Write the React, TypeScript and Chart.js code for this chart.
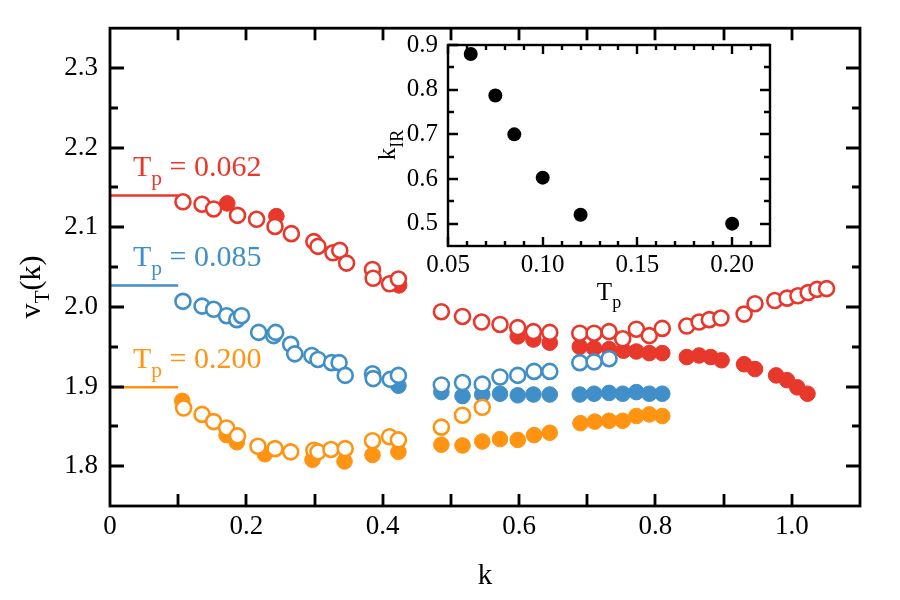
import React, { useEffect, useRef } from "react";
import { Chart, registerables } from "chart.js";
Chart.register(...registerables);

const FONT = '"Liberation Serif", "Times New Roman", "DejaVu Serif", serif';
const RED = "#e8382c";
const BLUE = "#418fc8";
const ORANGE = "#ff9412";

// ---------- main panel data ----------
const tpLabels = ["0.062", "0.085", "0.200"];
const plateauK = [0, 0.1];
const plateauV = [2.14, 2.027, 1.899];

const red062Open: number[][] = [
  [0.107, 2.132], [0.135, 2.129], [0.152, 2.123], [0.187, 2.115], [0.215, 2.11], [0.242, 2.101],
  [0.266, 2.092], [0.299, 2.082], [0.305, 2.076], [0.327, 2.068], [0.337, 2.071], [0.347, 2.055],
  [0.385, 2.047], [0.386, 2.036], [0.41, 2.029], [0.423, 2.035],
  [0.486, 1.994], [0.517, 1.988], [0.545, 1.981], [0.572, 1.978], [0.598, 1.974], [0.621, 1.969], [0.645, 1.968],
  [0.689, 1.967], [0.71, 1.967], [0.732, 1.969], [0.752, 1.96], [0.772, 1.972], [0.791, 1.964], [0.81, 1.973],
  [0.846, 1.976], [0.864, 1.981], [0.879, 1.984], [0.896, 1.986], [0.93, 1.991], [0.946, 2.004],
  [0.975, 2.008], [0.993, 2.011], [1.009, 2.014], [1.024, 2.018], [1.037, 2.022], [1.051, 2.023],
];
const red062Filled: number[][] = [
  [0.172, 2.13], [0.244, 2.114], [0.424, 2.027],
  [0.598, 1.963], [0.621, 1.959], [0.645, 1.955],
  [0.689, 1.95], [0.71, 1.948], [0.732, 1.947], [0.753, 1.945], [0.772, 1.944], [0.791, 1.942], [0.81, 1.942],
  [0.846, 1.937], [0.864, 1.939], [0.881, 1.937], [0.897, 1.933], [0.93, 1.928], [0.946, 1.922],
  [0.977, 1.914], [0.993, 1.908], [1.008, 1.899], [1.023, 1.891],
];
const blue085Open: number[][] = [
  [0.107, 2.007], [0.135, 2.001], [0.152, 1.997], [0.171, 1.989], [0.186, 1.984], [0.193, 1.989],
  [0.218, 1.968], [0.24, 1.964], [0.243, 1.968], [0.265, 1.953], [0.271, 1.941], [0.296, 1.939],
  [0.305, 1.934], [0.325, 1.93], [0.336, 1.93], [0.345, 1.914],
  [0.385, 1.916], [0.386, 1.91], [0.411, 1.909], [0.423, 1.914],
  [0.486, 1.902], [0.517, 1.905], [0.546, 1.903], [0.572, 1.912], [0.598, 1.914], [0.622, 1.919], [0.645, 1.919],
  [0.689, 1.93], [0.71, 1.931], [0.732, 1.935],
];
const blue085Filled: number[][] = [
  [0.423, 1.901],
  [0.486, 1.893], [0.517, 1.888], [0.546, 1.89], [0.572, 1.891], [0.598, 1.889], [0.621, 1.89], [0.645, 1.89],
  [0.689, 1.89], [0.71, 1.891], [0.732, 1.892], [0.752, 1.891], [0.772, 1.893], [0.791, 1.891], [0.81, 1.891],
];
const orange200Open: number[][] = [
  [0.108, 1.873], [0.135, 1.865], [0.152, 1.856], [0.171, 1.848], [0.187, 1.838], [0.217, 1.825],
  [0.242, 1.822], [0.265, 1.818], [0.299, 1.82], [0.305, 1.818], [0.324, 1.821], [0.345, 1.822],
  [0.385, 1.832], [0.41, 1.837], [0.423, 1.833],
  [0.486, 1.849], [0.517, 1.864], [0.546, 1.874],
];
const orange200Filled: number[][] = [
  [0.106, 1.882], [0.171, 1.839], [0.186, 1.83], [0.227, 1.815], [0.297, 1.808], [0.344, 1.806],
  [0.385, 1.814], [0.423, 1.818],
  [0.486, 1.827], [0.517, 1.826], [0.546, 1.831], [0.572, 1.834], [0.598, 1.833], [0.622, 1.839], [0.645, 1.842],
  [0.69, 1.854], [0.711, 1.856], [0.732, 1.857], [0.752, 1.857], [0.772, 1.863], [0.791, 1.865], [0.81, 1.863],
];

const xTickValues = [0, 0.2, 0.4, 0.6, 0.8, 1.0];
const xTickLabels = ["0", "0.2", "0.4", "0.6", "0.8", "1.0"];
const xFrameTicks = [0.1, 0.2, 0.3, 0.4, 0.5, 0.6, 0.7, 0.8, 0.9, 1.0];
const yTickValues = [1.8, 1.9, 2.0, 2.1, 2.2, 2.3];
const yTickLabels = ["1.8", "1.9", "2.0", "2.1", "2.2", "2.3"];
const yMinorTicks = [1.85, 1.95, 2.05, 2.15, 2.25];

// ---------- inset data ----------
const insetTp = [0.062, 0.075, 0.085, 0.1, 0.12, 0.2];
const insetKIR = [0.88, 0.787, 0.7, 0.603, 0.52, 0.5];
const insetXTicks = [0.05, 0.1, 0.15, 0.2];
const insetXLabels = ["0.05", "0.10", "0.15", "0.20"];
const insetXMinor = [0.06, 0.07, 0.08, 0.09, 0.11, 0.12, 0.13, 0.14, 0.16, 0.17, 0.18, 0.19, 0.21];
const insetYTicks = [0.5, 0.6, 0.7, 0.8, 0.9];
const insetYLabels = ["0.5", "0.6", "0.7", "0.8", "0.9"];
const insetYMinor = [0.55, 0.65, 0.75, 0.85];

type Part = { t: string; sub?: boolean };

function partsWidth(ctx: CanvasRenderingContext2D, parts: Part[], size: number) {
  let w = 0;
  for (const p of parts) {
    ctx.font = `${p.sub ? size * 0.72 : size}px ${FONT}`;
    w += ctx.measureText(p.t).width;
  }
  return w;
}
function drawParts(ctx: CanvasRenderingContext2D, x: number, y: number, parts: Part[], size: number, color: string) {
  let cx = x;
  ctx.fillStyle = color;
  ctx.textBaseline = "alphabetic";
  ctx.textAlign = "left";
  for (const p of parts) {
    ctx.font = `${p.sub ? size * 0.72 : size}px ${FONT}`;
    ctx.fillText(p.t, cx, p.sub ? y + size * 0.3 : y);
    cx += ctx.measureText(p.t).width;
  }
}

type TickSpec = {
  xMajor: number[]; xMinor: number[]; yMajor: number[]; yMinor: number[];
  xMaj: number; xMin: number; yMaj: number; yMin: number; lw: number;
};

function frameTicks(chart: any, s: TickSpec) {
  const { ctx, chartArea: a, scales } = chart;
  const xs = scales.x, ys = scales.y;
  ctx.save();
  ctx.strokeStyle = "#000";
  ctx.lineWidth = s.lw;
  ctx.beginPath();
  const dx = (vals: number[], len: number) => {
    for (const v of vals) {
      const px = Math.round(xs.getPixelForValue(v));
      ctx.moveTo(px, a.bottom); ctx.lineTo(px, a.bottom - len);
      ctx.moveTo(px, a.top); ctx.lineTo(px, a.top + len);
    }
  };
  const dy = (vals: number[], len: number) => {
    for (const v of vals) {
      const py = Math.round(ys.getPixelForValue(v));
      ctx.moveTo(a.left, py); ctx.lineTo(a.left + len, py);
      ctx.moveTo(a.right, py); ctx.lineTo(a.right - len, py);
    }
  };
  dx(s.xMajor, s.xMaj); dx(s.xMinor, s.xMin);
  dy(s.yMajor, s.yMaj); dy(s.yMinor, s.yMin);
  ctx.stroke();
  ctx.strokeRect(a.left, a.top, a.right - a.left, a.bottom - a.top);
  ctx.restore();
}

const toPts = (arr: number[][]) => arr.map(([x, y]) => ({ x, y }));

export default function App() {
  const mainRef = useRef<HTMLCanvasElement>(null);
  const insetRef = useRef<HTMLCanvasElement>(null);

  useEffect(() => {
    const colors = [RED, BLUE, ORANGE];
    const openSets = [red062Open, blue085Open, orange200Open];
    const filledSets = [red062Filled, blue085Filled, orange200Filled];
    const datasets: any[] = [];
    colors.forEach((c, i) => {
      datasets.push({
        type: "line",
        data: plateauK.map((k) => ({ x: k, y: plateauV[i] })),
        borderColor: c, borderWidth: 2.5, pointRadius: 0, order: 1,
      });
      datasets.push({
        type: "scatter",
        data: toPts(openSets[i]),
        borderColor: c, backgroundColor: "#ffffff", borderWidth: 2.6, pointRadius: 7.5, order: 2,
      });
      datasets.push({
        type: "scatter",
        data: toPts(filledSets[i]),
        borderColor: c, backgroundColor: c, borderWidth: 1, pointRadius: 7.8, order: 3,
      });
    });

    const mainChart = new Chart(mainRef.current!, {
      type: "scatter",
      data: { datasets },
      options: {
        animation: false,
        responsive: false,
        events: [],
        layout: { padding: { left: 0, top: 23, right: 40, bottom: 0 } },
        plugins: { legend: { display: false }, tooltip: { enabled: false } },
        scales: {
          x: {
            type: "linear", min: 0, max: 1.1,
            grid: { display: false, drawTicks: false },
            border: { display: false },
            afterBuildTicks: (axis: any) => { axis.ticks = xTickValues.map((value) => ({ value })); },
            afterFit: (s: any) => { s.height = 94; },
            ticks: {
              color: "#000", padding: 5, maxRotation: 0, autoSkip: false,
              font: { family: FONT, size: 27 },
              callback: (_v: any, i: number) => xTickLabels[i],
            },
          },
          y: {
            type: "linear", min: 1.75, max: 2.35,
            grid: { display: false, drawTicks: false },
            border: { display: false },
            afterBuildTicks: (axis: any) => { axis.ticks = yTickValues.map((value) => ({ value })); },
            afterFit: (s: any) => { s.width = 110; },
            ticks: {
              color: "#000", padding: 12, autoSkip: false,
              font: { family: FONT, size: 27 },
              callback: (_v: any, i: number) => yTickLabels[i],
            },
          },
        },
      },
      plugins: [
        {
          id: "mainDecor",
          afterDatasetsDraw(chart: any) {
            frameTicks(chart, {
              xMajor: xFrameTicks, xMinor: [], yMajor: yTickValues, yMinor: yMinorTicks,
              xMaj: 12, xMin: 6, yMaj: 14, yMin: 8, lw: 2.8,
            });
            const ctx = chart.ctx as CanvasRenderingContext2D;
            const xs = chart.scales.x, ys = chart.scales.y;
            const a = chart.chartArea;
            ctx.save();
            tpLabels.forEach((lab, i) => {
              const x = xs.getPixelForValue(0) + 23;
              const y = ys.getPixelForValue(plateauV[i]) - 19;
              drawParts(ctx, x, y, [{ t: "T" }, { t: "p", sub: true }, { t: " = " + lab }], 30, colors[i]);
            });
            // x title
            const kParts: Part[] = [{ t: "k" }];
            const kw = partsWidth(ctx, kParts, 29);
            drawParts(ctx, (a.left + a.right) / 2 - kw / 2, 584, kParts, 29, "#000");
            // y title
            const yParts: Part[] = [{ t: "v" }, { t: "T", sub: true }, { t: "(k)" }];
            const yw = partsWidth(ctx, yParts, 30);
            ctx.translate(40, 287);
            ctx.rotate(-Math.PI / 2);
            drawParts(ctx, -yw / 2, 0, yParts, 30, "#000");
            ctx.restore();
          },
        },
      ],
    });

    const insetChart = new Chart(insetRef.current!, {
      type: "scatter",
      data: {
        datasets: [
          {
            data: insetTp.map((x, i) => ({ x, y: insetKIR[i] })),
            backgroundColor: "#000", borderColor: "#000", pointRadius: 7, borderWidth: 0,
          },
        ],
      },
      options: {
        animation: false,
        responsive: false,
        events: [],
        layout: { padding: { left: 0, top: 24, right: 30, bottom: 0 } },
        plugins: { legend: { display: false }, tooltip: { enabled: false } },
        scales: {
          x: {
            type: "linear", min: 0.05, max: 0.22,
            grid: { display: false, drawTicks: false },
            border: { display: false },
            afterBuildTicks: (axis: any) => { axis.ticks = insetXTicks.map((value) => ({ value })); },
            afterFit: (s: any) => { s.height = 74; },
            ticks: {
              color: "#000", padding: 4, maxRotation: 0, autoSkip: false,
              font: { family: FONT, size: 25 },
              callback: (_v: any, i: number) => insetXLabels[i],
            },
          },
          y: {
            type: "linear", min: 0.45, max: 0.9,
            grid: { display: false, drawTicks: false },
            border: { display: false },
            afterBuildTicks: (axis: any) => { axis.ticks = insetYTicks.map((value) => ({ value })); },
            afterFit: (s: any) => { s.width = 88; },
            ticks: {
              color: "#000", padding: 10, autoSkip: false,
              font: { family: FONT, size: 25 },
              callback: (_v: any, i: number) => insetYLabels[i],
            },
          },
        },
      },
      plugins: [
        {
          id: "insetDecor",
          afterDatasetsDraw(chart: any) {
            frameTicks(chart, {
              xMajor: insetXTicks, xMinor: insetXMinor, yMajor: insetYTicks, yMinor: insetYMinor,
              xMaj: 9, xMin: 5, yMaj: 10, yMin: 6, lw: 2.4,
            });
            const ctx = chart.ctx as CanvasRenderingContext2D;
            const a = chart.chartArea;
            ctx.save();
            const tParts: Part[] = [{ t: "T" }, { t: "p", sub: true }];
            const tw = partsWidth(ctx, tParts, 25);
            drawParts(ctx, (a.left + a.right) / 2 - tw / 2, 280, tParts, 25, "#000");
            const kParts: Part[] = [{ t: "k" }, { t: "IR", sub: true }];
            const kw = partsWidth(ctx, kParts, 25);
            ctx.translate(35, 125);
            ctx.rotate(-Math.PI / 2);
            drawParts(ctx, -kw / 2, 0, kParts, 25, "#000");
            ctx.restore();
          },
        },
      ],
    });

    return () => {
      mainChart.destroy();
      insetChart.destroy();
    };
  }, []);

  return (
    <div style={{ position: "fixed", left: 0, top: 0, width: 900, height: 600, background: "#fff" }}>
      <canvas ref={mainRef} width={900} height={600} style={{ position: "absolute", left: 0, top: 0 }} />
      <canvas ref={insetRef} width={440} height={300} style={{ position: "absolute", left: 360, top: 20 }} />
    </div>
  );
}
